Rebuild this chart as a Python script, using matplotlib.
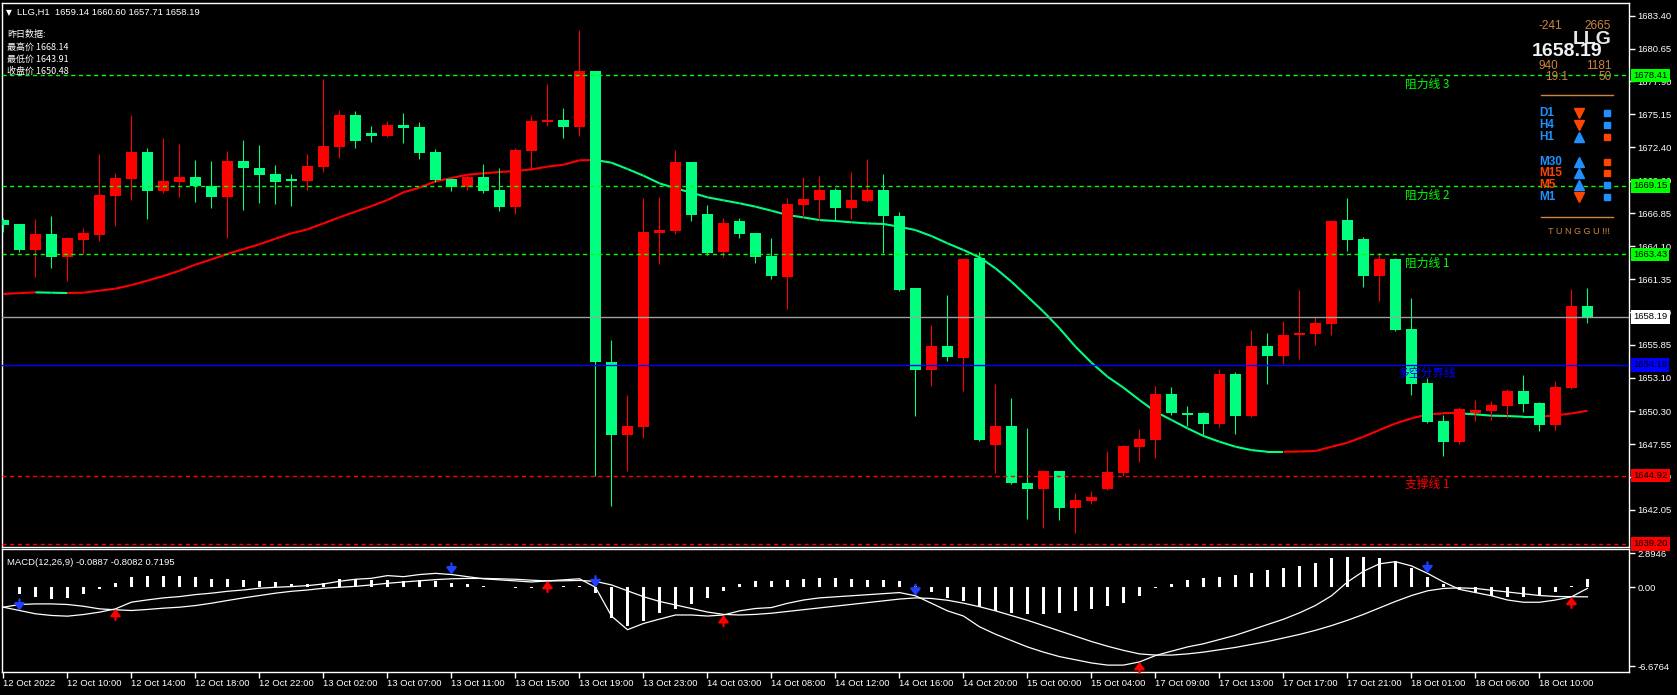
import matplotlib
matplotlib.use('Agg')
import matplotlib.pyplot as plt
import numpy as np
from matplotlib.collections import LineCollection
from matplotlib.lines import Line2D
import matplotlib.transforms as mtransforms

# ---------------- data ----------------
opens = [1666.28,1665.97,1663.79,1665.13,1663.21,1664.63,1665.05,1668.34,1669.74,1671.99,
         1668.73,1669.48,1669.90,1669.15,1668.23,1671.24,1670.66,1670.15,1669.73,1669.57,
         1670.74,1672.41,1675.09,1673.58,1673.33,1674.25,1674.09,1671.99,1669.73,1669.07,
         1669.90,1668.81,1667.39,1672.08,1674.50,1674.67,1674.09,1678.77,1654.42,1648.31,
         1648.98,1665.22,1665.38,1671.16,1666.81,1663.63,1666.22,1665.22,1663.29,1661.53,
         1667.56,1667.98,1668.81,1667.31,1667.89,1668.81,1666.64,1660.61,1653.75,1655.76,
         1654.75,1663.12,1647.47,1649.06,1644.29,1643.79,1645.30,1642.20,1642.79,1643.79,
         1645.13,1647.31,1647.89,1651.74,1650.15,1650.15,1649.23,1653.41,1649.90,1655.76,
         1654.92,1656.68,1656.76,1657.60,1666.30,1664.71,1661.61,1663.04,1657.18,1652.66,
         1649.48,1647.72,1650.15,1650.32,1650.73,1651.99,1650.98,1649.14,1652.24,1659.14]
highs = [1666.44,1665.97,1666.39,1666.64,1664.80,1665.63,1671.83,1670.24,1675.09,1672.33,
         1673.17,1672.66,1671.32,1671.24,1672.08,1672.99,1672.58,1670.91,1670.15,1671.83,
         1678.10,1675.51,1675.42,1674.17,1674.59,1675.26,1674.50,1672.25,1669.80,1670.07,
         1670.99,1670.66,1672.33,1675.01,1677.68,1675.68,1682.20,1678.77,1656.26,1651.66,
         1668.14,1668.23,1672.16,1671.16,1667.56,1666.47,1666.47,1665.22,1664.80,1668.14,
         1669.90,1669.98,1668.98,1670.32,1671.41,1670.15,1666.97,1660.61,1657.52,1660.03,
         1663.10,1663.62,1652.58,1651.41,1648.90,1645.30,1645.30,1643.46,1643.62,1646.97,
         1647.47,1648.81,1652.41,1652.33,1650.74,1650.20,1653.83,1653.58,1657.09,1656.84,
         1657.85,1660.44,1658.18,1666.30,1668.14,1664.88,1663.54,1663.10,1659.77,1653.08,
         1649.98,1650.65,1651.24,1651.15,1652.16,1653.33,1651.07,1652.83,1660.53,1660.60]
lows = [1665.33,1663.65,1661.56,1662.32,1661.23,1663.46,1664.57,1665.80,1667.98,1666.39,
        1668.56,1668.23,1667.81,1667.31,1664.80,1667.14,1667.73,1667.64,1667.48,1668.81,
        1670.32,1671.49,1672.33,1672.83,1673.25,1672.75,1671.41,1669.48,1668.73,1668.81,
        1668.60,1667.06,1666.81,1670.49,1674.17,1673.17,1673.33,1644.88,1642.37,1645.30,
        1648.06,1662.62,1665.13,1666.22,1663.40,1663.21,1664.80,1662.71,1661.37,1658.86,
        1666.58,1666.30,1666.22,1666.39,1667.80,1663.54,1660.40,1649.90,1652.41,1654.50,
        1651.99,1647.80,1645.13,1644.20,1641.28,1640.53,1641.20,1640.11,1642.54,1643.70,
        1644.88,1646.05,1646.39,1650.00,1649.06,1648.23,1648.98,1648.39,1649.80,1652.58,
        1654.25,1654.67,1655.84,1656.68,1663.71,1660.69,1659.52,1657.01,1651.65,1649.31,
        1646.55,1647.55,1649.48,1649.56,1649.73,1650.23,1648.64,1648.73,1652.16,1657.71]
closes = [1665.91,1663.79,1665.13,1663.21,1664.80,1665.22,1668.40,1669.82,1671.99,1668.73,
          1669.57,1669.90,1669.15,1668.23,1671.24,1670.66,1670.07,1669.48,1669.57,1670.82,
          1672.50,1675.09,1672.91,1673.33,1674.25,1674.00,1671.91,1669.65,1669.07,1669.90,
          1668.73,1667.39,1672.16,1674.59,1674.67,1674.09,1678.77,1654.42,1648.31,1649.07,
          1665.30,1665.47,1671.16,1666.72,1663.54,1666.05,1665.13,1663.21,1661.62,1667.64,
          1668.06,1668.81,1667.31,1667.98,1668.81,1666.64,1660.44,1653.75,1655.76,1654.84,
          1663.04,1647.89,1649.06,1644.29,1643.79,1645.30,1642.20,1642.87,1643.12,1645.21,
          1647.39,1647.98,1651.74,1650.15,1649.98,1649.23,1653.41,1649.90,1655.76,1654.92,
          1656.68,1656.84,1657.68,1666.22,1664.63,1661.61,1663.04,1657.09,1652.58,1649.40,
          1647.72,1650.48,1650.40,1650.82,1651.99,1650.90,1649.14,1652.32,1659.10,1658.19]
ma_line = [1660.11,1660.19,1660.25,1660.22,1660.19,1660.22,1660.39,1660.56,1660.86,1661.23,
           1661.62,1662.06,1662.57,1663.01,1663.46,1663.88,1664.27,1664.74,1665.19,1665.52,
           1666.02,1666.53,1667.00,1667.47,1667.98,1668.62,1669.01,1669.54,1669.82,1670.10,
           1670.21,1670.32,1670.40,1670.54,1670.77,1670.93,1671.30,1671.32,1671.10,1670.57,
           1670.01,1669.37,1668.95,1668.59,1668.20,1667.95,1667.70,1667.42,1667.08,1666.72,
           1666.52,1666.30,1666.22,1666.11,1666.02,1665.97,1665.74,1665.46,1664.96,1664.35,
           1663.79,1663.18,1662.26,1661.14,1659.89,1658.63,1657.24,1655.70,1654.36,1653.19,
           1652.27,1651.24,1650.26,1649.57,1648.87,1648.23,1647.75,1647.33,1647.05,1646.91,
           1646.91,1646.93,1646.97,1647.33,1647.67,1648.17,1648.73,1649.28,1649.70,1650.04,
           1650.12,1650.12,1650.04,1649.93,1649.90,1649.84,1649.84,1649.95,1650.12,1650.34]

macd_main = [-1.69,-1.97,-2.25,-2.39,-2.45,-2.31,-2.11,-1.83,-1.26,-1.07,
             -0.90,-0.79,-0.62,-0.50,-0.34,-0.23,-0.08,0.00,0.06,0.14,
             0.28,0.51,0.68,0.76,0.99,0.90,1.08,1.18,1.08,0.90,
             0.72,0.63,0.54,0.45,0.54,0.63,0.72,0.00,-2.44,-3.60,
             -3.07,-2.70,-2.35,-2.35,-2.44,-2.35,-2.00,-1.80,-1.72,-1.36,
             -1.08,-0.90,-0.81,-0.72,-0.63,-0.54,-0.45,-0.72,-1.36,-2.00,
             -2.44,-3.35,-3.98,-4.52,-5.06,-5.50,-5.88,-6.15,-6.42,-6.60,
             -6.60,-6.33,-5.79,-5.42,-5.06,-4.79,-4.43,-4.07,-3.62,-3.16,
             -2.71,-2.17,-1.54,-0.72,0.45,1.36,1.99,2.17,1.81,1.18,
             0.45,-0.18,-0.45,-0.72,-1.08,-1.27,-1.27,-1.08,-0.81,-0.09]
macd_signal = [-1.69,-1.46,-1.41,-1.41,-1.46,-1.61,-1.83,-1.91,-1.97,-1.88,
               -1.77,-1.69,-1.55,-1.35,-1.12,-0.90,-0.70,-0.50,-0.34,-0.23,
               -0.08,0.00,0.08,0.20,0.34,0.45,0.55,0.65,0.72,0.75,
               0.75,0.72,0.68,0.60,0.54,0.55,0.58,0.50,0.20,-0.30,
               -0.80,-1.20,-1.50,-1.80,-2.10,-2.30,-2.35,-2.30,-2.20,-2.05,
               -1.90,-1.75,-1.60,-1.45,-1.30,-1.15,-1.00,-0.90,-0.95,-1.10,
               -1.35,-1.65,-2.00,-2.40,-2.80,-3.25,-3.70,-4.15,-4.60,-5.00,
               -5.35,-5.65,-5.75,-5.75,-5.65,-5.50,-5.30,-5.10,-4.85,-4.60,
               -4.30,-4.00,-3.65,-3.25,-2.80,-2.30,-1.75,-1.20,-0.70,-0.30,
               -0.10,-0.05,-0.10,-0.25,-0.40,-0.55,-0.70,-0.78,-0.80,-0.81]
macd_hist = [0.05,-0.56,-0.85,-1.00,-0.90,-0.56,-0.15,0.35,0.85,0.93,
             0.93,0.93,0.85,0.68,0.68,0.60,0.50,0.42,0.28,0.30,
             0.37,0.70,0.70,0.65,0.60,0.55,0.60,0.55,0.40,0.25,
             0.10,0.05,-0.05,-0.10,0.05,0.10,0.15,-0.50,-2.60,-3.30,
             -2.90,-2.20,-1.80,-1.40,-0.90,-0.30,0.30,0.50,0.55,0.60,
             0.70,0.75,0.75,0.70,0.65,0.60,0.50,0.15,-0.40,-0.90,
             -1.20,-1.70,-2.00,-2.20,-2.30,-2.30,-2.20,-2.00,-1.80,-1.60,
             -1.30,-0.70,-0.10,0.30,0.60,0.75,0.90,1.05,1.25,1.45,
             1.60,1.80,2.10,2.50,2.60,2.60,2.50,2.20,1.60,0.90,
             0.30,-0.20,-0.50,-0.70,-0.80,-0.85,-0.70,-0.40,0.10,0.72]
sell_arrows = [1, 28, 37, 57, 89]
buy_arrows = [7, 34, 45, 71, 98]
macd_readout = [-0.0887, -0.8082, 0.7195]

time_labels = ["12 Oct 2022", "12 Oct 10:00", "12 Oct 14:00", "12 Oct 18:00", "12 Oct 22:00",
               "13 Oct 02:00", "13 Oct 07:00", "13 Oct 11:00", "13 Oct 15:00", "13 Oct 19:00",
               "13 Oct 23:00", "14 Oct 03:00", "14 Oct 08:00", "14 Oct 12:00", "14 Oct 16:00",
               "14 Oct 20:00", "15 Oct 00:00", "15 Oct 04:00", "17 Oct 09:00", "17 Oct 13:00",
               "17 Oct 17:00", "17 Oct 21:00", "18 Oct 01:00", "18 Oct 06:00", "18 Oct 10:00"]
price_ticks = [1683.40, 1680.65, 1677.90, 1675.15, 1672.40, 1669.60, 1666.85, 1664.10,
               1661.35, 1658.60, 1655.85, 1653.10, 1650.30, 1647.55, 1644.80, 1642.05]
macd_ticks = [2.8946, 0.0, -6.6764]

resist_levels = [1678.41, 1669.15, 1663.43]
resist_names = ["阻力线 3", "阻力线 2", "阻力线 1"]
support_level = 1644.92
support_name = "支撑线 1"
support2_level = 1639.20
pivot_level = 1654.18
pivot_name = "多空分界线"
last_price = 1658.19

y_hi, y_lo, y_close = 1668.14, 1643.91, 1650.48
panel_nums = ["-241", "2665", "940", "1181", "19:1", "50"]
tf_names = ["D1", "H4", "H1", "M30", "M15", "M5", "M1"]
tf_dir = [-1, -1, 1, 1, 1, 1, -1]
tf_box = [1, 1, -1, -1, -1, 1, 1]

# ---------------- style ----------------
RED = '#ff0000'
GREEN = '#00ff7f'
LIME = '#00ff00'
TAN = '#cd853f'
BLUE_TXT = '#1e90ff'
ORANGE = '#ff4500'
SANS = ['Liberation Sans', 'DejaVu Sans']
CJK = ['Noto Sans CJK SC', 'DejaVu Sans']
plt.rcParams['font.family'] = ['DejaVu Sans', 'Noto Sans CJK SC']

W, H = 1677, 695
fig = plt.figure(figsize=(W / 100, H / 100), dpi=100, facecolor='black')


def fx(px):
    return px / W


def fy(py):
    return 1 - py / H


ax = fig.add_axes([fx(2), fy(547), fx(1629) - fx(2), fy(3) - fy(547)])
axm = fig.add_axes([fx(2), fy(672), fx(1629) - fx(2), fy(549) - fy(672)])

for a in (ax, axm):
    a.set_facecolor('black')
    for s in a.spines.values():
        s.set_color('white')
        s.set_linewidth(1.0)

n = len(opens)
x = np.arange(n)
o = np.array(opens); h = np.array(highs); l = np.array(lows); c = np.array(closes)
col = np.where(c >= o, RED, GREEN)

ax.vlines(x, l, h, colors=col, lw=0.8, zorder=3)
ax.bar(x, np.maximum(np.abs(c - o), 0.08), bottom=np.minimum(o, c), width=0.69,
       color=col, linewidth=0, zorder=4)

# moving average, coloured by direction
ma = np.array(ma_line)
segs = []
seg_cols = []
prev = RED
for i in range(n - 1):
    segs.append([(x[i], ma[i]), (x[i + 1], ma[i + 1])])
    d = ma[i + 1] - ma[i]
    if d > 0:
        prev = RED
    elif d < 0:
        prev = GREEN
    seg_cols.append(prev)
ax.add_collection(LineCollection(segs, colors=seg_cols, linewidths=1.5, zorder=2.5,
                                 capstyle='butt'))

xlim = ((2 - 3.5) / 16, (1629 - 3.5) / 16)
ax.set_xlim(*xlim)
ax.set_ylim(1683.40 - (547 - 15.7) / 11.95, 1683.40 - (3 - 15.7) / 11.95)

dash = (0, (3, 2.5))
for lv in resist_levels:
    ax.axhline(lv, color=LIME, lw=1, ls=dash, zorder=5)
ax.axhline(support_level, color=RED, lw=1, ls=dash, zorder=5)
ax.axhline(support2_level, color=RED, lw=1, ls=dash, zorder=5)
ax.axhline(last_price, color='#a0a0a0', lw=1, zorder=5)
ax.axhline(pivot_level, color='#0000ff', lw=1, zorder=5)

bt = mtransforms.blended_transform_factory(ax.transAxes, ax.transData)
lab_x = (1405 - 2) / 1627
for lv, nm in zip(resist_levels, resist_names):
    ax.text(lab_x, lv - 0.2, nm, transform=bt, color=LIME, fontsize=8.5, va='top',
            ha='left', family=CJK, zorder=6)
ax.text(lab_x, support_level - 0.2, support_name, transform=bt, color=RED, fontsize=8.5,
        va='top', ha='left', family=CJK, zorder=6)
ax.text((1397 - 2) / 1627, pivot_level - 0.2, pivot_name, transform=bt, color='#0000ff',
        fontsize=8.5, va='top', ha='left', family=CJK, zorder=6)

# price axis
ax.yaxis.tick_right()
ax.set_yticks(price_ticks)
ax.set_yticklabels([f"{v:.2f}" for v in price_ticks], family=SANS)
ax.tick_params(axis='y', colors='white', length=4, width=1, pad=2, labelsize=6.8)
ax.tick_params(axis='x', bottom=False, labelbottom=False)

box_x = (1633 - 2) / 1627
for lv, fc in [(resist_levels[0], LIME), (resist_levels[1], LIME), (resist_levels[2], LIME),
               (last_price, 'white'), (pivot_level, '#0000ff'),
               (support_level, RED), (support2_level, RED)]:
    ax.text(box_x, lv, f"{lv:.2f}", transform=bt, color='black', fontsize=6.8, va='center',
            ha='left', family=SANS, zorder=10, clip_on=False,
            bbox=dict(facecolor=fc, edgecolor='none', pad=1.6))

# header texts
fig.text(fx(6), fy(12.5), "▼", color='white', fontsize=5.5, va='center', ha='left',
         family=['DejaVu Sans'])
fig.text(fx(17), fy(12.5), "LLG,H1  %.2f %.2f %.2f %.2f" % (opens[-1], highs[-1], lows[-1], closes[-1]),
         color='white', fontsize=6.8, va='center', ha='left', family=SANS)
fig.text(fx(7), fy(35), "昨日数据:", color='white', fontsize=6.5, va='center', ha='left', family=CJK)
fig.text(fx(7), fy(47), "最高价 %.2f" % y_hi, color='white', fontsize=6.5, va='center', ha='left', family=CJK)
fig.text(fx(7), fy(59.5), "最低价 %.2f" % y_lo, color='white', fontsize=6.5, va='center', ha='left', family=CJK)
fig.text(fx(7), fy(71.5), "收盘价 %.2f" % y_close, color='white', fontsize=6.5, va='center', ha='left', family=CJK)

# right info panel
fig.text(fx(1550), fy(26), panel_nums[0], color=TAN, fontsize=8.5, ha='center', va='center', family=SANS)
fig.text(fx(1598), fy(26), panel_nums[1], color=TAN, fontsize=8.5, ha='center', va='center', family=SANS)
fig.text(fx(1612), fy(39), "LLG", color='#e6e6e6', fontsize=14, ha='right', va='center',
         family=SANS, fontweight='bold')
fig.text(fx(1567), fy(52), f"{last_price:.2f}", color='#f0f0f0', fontsize=14, ha='center',
         va='center', family=SANS, fontweight='bold')
fig.text(fx(1548), fy(66), panel_nums[2], color=TAN, fontsize=8.5, ha='center', va='center', family=SANS)
fig.text(fx(1599), fy(66), panel_nums[3], color=TAN, fontsize=8.5, ha='center', va='center', family=SANS)
fig.text(fx(1557), fy(77), panel_nums[4], color=TAN, fontsize=8.5, ha='center', va='center', family=SANS)
fig.text(fx(1605), fy(77), panel_nums[5], color=TAN, fontsize=8.5, ha='center', va='center', family=SANS)
fig.add_artist(Line2D([fx(1541), fx(1613)], [fy(95), fy(95)], color=TAN, lw=1,
                      transform=fig.transFigure))
fig.add_artist(Line2D([fx(1541), fx(1613)], [fy(217), fy(217)], color=TAN, lw=1,
                      transform=fig.transFigure))
tf_y = [113, 125, 137, 162, 173, 185, 197]
tf_col = [BLUE_TXT, BLUE_TXT, BLUE_TXT, BLUE_TXT, ORANGE, ORANGE, BLUE_TXT]
for nm, yy, tc, d, b in zip(tf_names, tf_y, tf_col, tf_dir, tf_box):
    fig.text(fx(1539), fy(yy), nm, color=tc, fontsize=8.5, ha='left', va='center',
             family=SANS, fontweight='bold')
    fig.add_artist(Line2D([fx(1579)], [fy(yy)], marker='^' if d > 0 else 'v', ms=7,
                          color=BLUE_TXT if d > 0 else ORANGE, lw=0,
                          transform=fig.transFigure))
    fig.add_artist(Line2D([fx(1607)], [fy(yy)], marker='s', ms=5, lw=0,
                          color=BLUE_TXT if b > 0 else ORANGE, transform=fig.transFigure))
fig.text(fx(1579), fy(231), "T U N G G U !!!", color=TAN, fontsize=6.5, ha='center',
         va='center', family=SANS)

# ---------------- MACD panel ----------------
axm.bar(x, macd_hist, width=0.19, color='white', linewidth=0, zorder=3)
axm.plot(x, macd_main, color='white', lw=0.9, zorder=4)
axm.plot(x, macd_signal, color='white', lw=0.9, zorder=4)
for k in sell_arrows:
    axm.annotate('', xy=(k, macd_main[k]), xytext=(0, 8), textcoords='offset points',
                 arrowprops=dict(arrowstyle='-|>,head_width=0.3,head_length=0.4',
                                 color='#2040ff', lw=1.6, shrinkA=0, shrinkB=0), zorder=6)
for k in buy_arrows:
    axm.annotate('', xy=(k, macd_main[k]), xytext=(0, -8), textcoords='offset points',
                 arrowprops=dict(arrowstyle='-|>,head_width=0.3,head_length=0.4',
                                 color=RED, lw=1.6, shrinkA=0, shrinkB=0), zorder=6)
axm.set_xlim(*xlim)
axm.set_ylim(-(671.7 - 586.7) / 11.83, (586.7 - 548.3) / 11.83)
axm.yaxis.tick_right()
axm.set_yticks(macd_ticks)
axm.set_yticklabels(["2.8946", "0.00", "-6.6764"], family=SANS)
axm.tick_params(axis='y', colors='white', length=4, width=1, pad=2, labelsize=6.8)
axm.set_xticks(np.arange(0, 4 * len(time_labels), 4))
axm.set_xticklabels(time_labels, family=SANS, ha='left')
axm.tick_params(axis='x', colors='white', length=4, width=1, pad=1, labelsize=6.8)
axm.text(0.003, 0.93, "MACD(12,26,9) %.4f %.4f %.4f" % tuple(macd_readout),
         transform=axm.transAxes, color='white', fontsize=6.8, ha='left', va='top', family=SANS)

fig.savefig('out.png', dpi=100, facecolor='black')
